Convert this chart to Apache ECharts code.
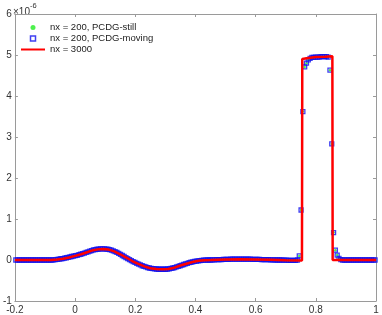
<!DOCTYPE html>
<html>
<head>
<meta charset="utf-8">
<script src="https://cdn.jsdelivr.net/npm/echarts@6/dist/echarts.min.js"></script>
<style>
  html, body { margin: 0; padding: 0; background: #fff; }
  #chart { width: 382px; height: 315px; }
</style>
</head>
<body>
<div id="chart"></div>
<script>
// values in units of 1e-6
var xTicks = [-0.2, 0, 0.2, 0.4, 0.6, 0.8, 1];
var yTicks = [-1, 0, 1, 2, 3, 4, 5, 6];

// nx = 200 cell centres
var x200 = [
  -0.197,-0.191,-0.185,-0.179,-0.173,-0.167,-0.161,-0.155,-0.149,-0.143,
  -0.137,-0.131,-0.125,-0.119,-0.113,-0.107,-0.101,-0.095,-0.089,-0.083,
  -0.077,-0.071,-0.065,-0.059,-0.053,-0.047,-0.041,-0.035,-0.029,-0.023,
  -0.017,-0.011,-0.005,0.001,0.007,0.013,0.019,0.025,0.031,0.037,
  0.043,0.049,0.055,0.061,0.067,0.073,0.079,0.085,0.091,0.097,
  0.103,0.109,0.115,0.121,0.127,0.133,0.139,0.145,0.151,0.157,
  0.163,0.169,0.175,0.181,0.187,0.193,0.199,0.205,0.211,0.217,
  0.223,0.229,0.235,0.241,0.247,0.253,0.259,0.265,0.271,0.277,
  0.283,0.289,0.295,0.301,0.307,0.313,0.319,0.325,0.331,0.337,
  0.343,0.349,0.355,0.361,0.367,0.373,0.379,0.385,0.391,0.397,
  0.403,0.409,0.415,0.421,0.427,0.433,0.439,0.445,0.451,0.457,
  0.463,0.469,0.475,0.481,0.487,0.493,0.499,0.505,0.511,0.517,
  0.523,0.529,0.535,0.541,0.547,0.553,0.559,0.565,0.571,0.577,
  0.583,0.589,0.595,0.601,0.607,0.613,0.619,0.625,0.631,0.637,
  0.643,0.649,0.655,0.661,0.667,0.673,0.679,0.685,0.691,0.697,
  0.703,0.709,0.715,0.721,0.727,0.733,0.739,0.745,0.751,0.757,
  0.763,0.769,0.775,0.781,0.787,0.793,0.799,0.805,0.811,0.817,
  0.823,0.829,0.835,0.841,0.847,0.853,0.859,0.865,0.871,0.877,
  0.883,0.889,0.895,0.901,0.907,0.913,0.919,0.925,0.931,0.937,
  0.943,0.949,0.955,0.961,0.967,0.973,0.979,0.985,0.991,0.997
];
var y200 = [
  0,0,0,0,0,0,0,0,0,0,
  0,0,0,0,0,0,0,0,0,0,
  0,0.005,0.01,0.015,0.02,0.03,0.035,0.045,0.055,0.065,
  0.075,0.085,0.095,0.105,0.115,0.13,0.14,0.155,0.17,0.185,
  0.2,0.215,0.23,0.245,0.255,0.262,0.267,0.27,0.27,0.27,
  0.267,0.262,0.252,0.24,0.225,0.205,0.185,0.16,0.135,0.11,
  0.085,0.06,0.035,0.01,-0.015,-0.04,-0.06,-0.08,-0.1,-0.12,
  -0.14,-0.155,-0.17,-0.185,-0.195,-0.205,-0.21,-0.215,-0.22,-0.225,
  -0.225,-0.225,-0.225,-0.225,-0.22,-0.215,-0.205,-0.195,-0.185,-0.17,
  -0.155,-0.14,-0.125,-0.11,-0.095,-0.08,-0.065,-0.055,-0.045,-0.035,
  -0.025,-0.02,-0.015,-0.01,-0.005,-0.005,0,0,0,0.005,
  0.005,0.01,0.01,0.01,0.01,0.015,0.015,0.015,0.015,0.02,
  0.02,0.02,0.02,0.02,0.02,0.02,0.02,0.02,0.02,0.02,
  0.02,0.015,0.015,0.015,0.015,0.015,0.01,0.01,0.01,0.01,
  0.01,0.005,0.005,0.005,0,0,0,0,-0.005,-0.005,
  -0.005,-0.01,-0.01,-0.01,-0.01,-0.01,0,0.1,1.22,3.62,
  4.71,4.8,4.88,4.92,4.94,4.94,4.95,4.95,4.95,4.96,
  4.96,4.96,4.96,4.95,4.63,2.83,0.67,0.24,0.12,0.04,
  0.01,0,0,0,0,0,0,0,0,0,
  0,0,0,0,0,0,0,0,0,0
];

// nx = 3000 reference
var x3000 = [-0.2,-0.08,-0.06,-0.04,-0.02,0,0.02,0.04,0.06,0.08,0.095,0.11,0.13,0.15,0.17,0.19,
  0.21,0.23,0.25,0.27,0.29,0.31,0.33,0.35,0.37,0.39,0.41,0.43,0.45,0.5,0.55,0.6,0.65,0.7,
  0.754,0.755,0.77,0.8,0.83,0.855,0.856,1];
var y3000 = [0,0,0.012,0.03,0.06,0.1,0.14,0.19,0.24,0.265,0.27,0.258,0.21,0.14,0.06,-0.025,
  -0.095,-0.155,-0.2,-0.22,-0.227,-0.218,-0.187,-0.135,-0.09,-0.047,-0.02,-0.005,0,0.015,0.02,0.015,0.005,-0.005,
  -0.01,4.9,4.92,4.95,4.96,4.97,0,0];

function pairs(xs, ys) {
  return xs.map(function (x, i) { return [x, ys[i]]; });
}

var axisGrey = '#9a9a9a';
var labelColor = '#333';
var fontFam = 'Liberation Sans, Arial, sans-serif';
var blue = '#1010ee';
var green = '#22ee22';

var chart = echarts.init(document.getElementById('chart'), null, { renderer: 'canvas' });
chart.setOption({
  animation: false,
  backgroundColor: '#fff',
  grid: { left: 11, right: 6, top: 14, bottom: 14, containLabel: false },
  legend: {
    orient: 'vertical',
    left: 21,
    top: 22,
    padding: 0,
    itemWidth: 24,
    itemHeight: 5,
    itemGap: 0,
    symbolKeepAspect: true,
    textStyle: { fontSize: 9.5, lineHeight: 11, color: '#222', fontFamily: fontFam },
    data: [
      { name: 'nx = 200, PCDG-still', icon: 'circle',
        itemStyle: { color: green, borderWidth: 0 } },
      { name: 'nx = 200, PCDG-moving', icon: 'path://M0,0 L10,0 L10,10 L0,10 Z',
        itemStyle: { color: 'rgba(0,0,0,0)', borderColor: blue, borderWidth: 1.5 } },
      { name: 'nx = 3000', icon: 'path://M0,0 L24,0 L24,2 L0,2 Z',
        itemStyle: { color: '#ff0000', borderWidth: 0 } }
    ]
  },
  graphic: [{
    type: 'text',
    left: 13,
    top: 2,
    style: {
      text: '{a|×10}{b|-6}',
      rich: {
        a: { fontSize: 10, fill: labelColor, fontFamily: fontFam, padding: [5, 0, 0, 0] },
        b: { fontSize: 7.5, fill: labelColor, fontFamily: fontFam, verticalAlign: 'top' }
      }
    }
  }],
  xAxis: [{
    type: 'value',
    min: -0.2, max: 1, interval: 0.2,
    position: 'bottom',
    axisLine: { show: true, onZero: false, lineStyle: { color: axisGrey, width: 1 } },
    axisTick: { show: true, inside: true, length: 3, lineStyle: { color: axisGrey } },
    axisLabel: {
      color: labelColor, fontSize: 10, fontFamily: fontFam, margin: 4,
      formatter: function (v) {
        var t = xTicks.find(function (k) { return Math.abs(k - v) < 1e-9; });
        return t === undefined ? '' : String(t);
      }
    },
    splitLine: { show: false }
  }, {
    type: 'value',
    min: -0.2, max: 1, interval: 0.2,
    position: 'top',
    axisLine: { show: true, onZero: false, lineStyle: { color: axisGrey, width: 1 } },
    axisTick: { show: true, inside: true, length: 3, lineStyle: { color: axisGrey } },
    axisLabel: { show: false },
    splitLine: { show: false }
  }],
  yAxis: [{
    type: 'value',
    min: -1, max: 6, interval: 1,
    position: 'left',
    axisLine: { show: true, onZero: false, lineStyle: { color: axisGrey, width: 1 } },
    axisTick: { show: true, inside: true, length: 3, lineStyle: { color: axisGrey } },
    axisLabel: {
      color: labelColor, fontSize: 10, fontFamily: fontFam, margin: 3,
      formatter: function (v) { return yTicks.indexOf(Math.round(v)) >= 0 ? String(Math.round(v)) : ''; }
    },
    splitLine: { show: false }
  }, {
    type: 'value',
    min: -1, max: 6, interval: 1,
    position: 'right',
    axisLine: { show: true, onZero: false, lineStyle: { color: axisGrey, width: 1 } },
    axisTick: { show: true, inside: true, length: 3, lineStyle: { color: axisGrey } },
    axisLabel: { show: false },
    splitLine: { show: false }
  }],
  series: [{
    name: 'nx = 200, PCDG-still',
    type: 'scatter',
    symbol: 'circle',
    symbolSize: 2.5,
    itemStyle: { color: green },
    data: pairs(x200, y200),
    z: 2
  }, {
    name: 'nx = 200, PCDG-moving',
    type: 'scatter',
    symbol: 'rect',
    symbolSize: 4,
    itemStyle: { color: 'rgba(0,0,0,0)', borderColor: blue, borderWidth: 1.3 },
    data: pairs(x200, y200),
    z: 3
  }, {
    name: 'nx = 3000',
    type: 'line',
    symbol: 'none',
    showSymbol: false,
    lineStyle: { color: '#ff0000', width: 2.5 },
    itemStyle: { color: '#ff0000' },
    data: pairs(x3000, y3000),
    z: 4
  }]
});
</script>
</body>
</html>
